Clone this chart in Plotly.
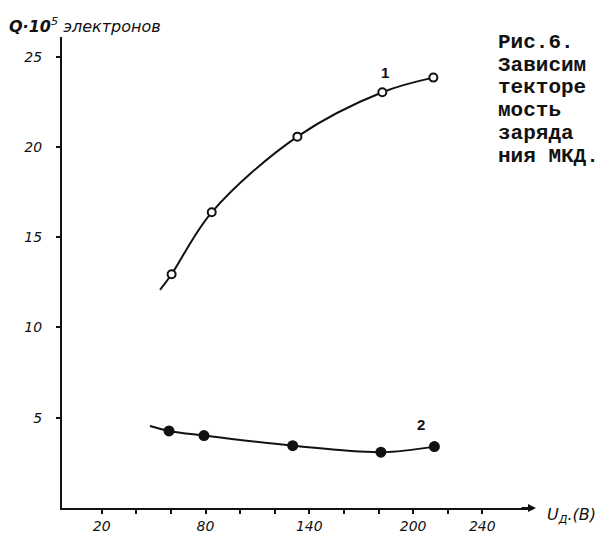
import plotly.graph_objects as go

# ---- data ----
u_curve1 = [60.4, 83.6, 133.1, 182.2, 211.7]          # U_D, V  (open circles, curve 1)
q_curve1 = [12.95, 16.38, 20.57, 23.03, 23.84]       # Q, 10^5 electrons
u_curve2 = [58.9, 79.1, 130.4, 181.4, 212.3]          # (filled circles, curve 2)
q_curve2 = [4.27, 4.01, 3.45, 3.09, 3.40]
line1_start = (53.7, 12.08)   # where the hand-drawn line 1 begins
line2_start = (47.9, 4.54)    # where the hand-drawn line 2 begins

x_tick_vals = [20, 80, 140, 200, 240]
x_tick_text = ["20", "80", "140", "200", "240"]
x_minor_vals = [20, 40, 60, 80, 100, 120, 140, 160, 180, 200, 220, 240]
y_tick_vals = [5, 10, 15, 20, 25]
y_tick_text = ["5", "10", "15", "20", "25"]

caption_lines = ["Рис.6.", "Зависим", "текторе", "мость", "заряда", "ния МКД."]

# ---- layout geometry ----
W, H = 600, 533
L, R, T, B = 62, 67, 37, 25
X_RANGE = [-2.95, 269.3]
Y_RANGE = [0, 26.09]
INK = "#111111"


def px2paper(px, py):
    return (px - L) / (W - L - R), 1 - (py - T) / (H - T - B)


fig = go.Figure()

fig.add_trace(go.Scatter(
    x=[line1_start[0]] + u_curve1, y=[line1_start[1]] + q_curve1,
    mode="lines", line=dict(color=INK, width=2, shape="spline", smoothing=1.0),
    hoverinfo="skip", showlegend=False))
fig.add_trace(go.Scatter(
    x=[line2_start[0]] + u_curve2, y=[line2_start[1]] + q_curve2,
    mode="lines", line=dict(color=INK, width=2, shape="spline", smoothing=1.0),
    hoverinfo="skip", showlegend=False))
fig.add_trace(go.Scatter(
    x=u_curve1, y=q_curve1, mode="markers", name="1",
    marker=dict(symbol="circle", size=8, color="white",
                line=dict(color=INK, width=2)),
    showlegend=False))
fig.add_trace(go.Scatter(
    x=u_curve2, y=q_curve2, mode="markers", name="2",
    marker=dict(symbol="circle", size=11, color=INK,
                line=dict(color=INK, width=0)),
    showlegend=False))

tick_font = dict(family="DejaVu Sans", size=14, color=INK, style="italic")

fig.update_xaxes(
    range=X_RANGE, showgrid=False, zeroline=False, automargin=False,
    showline=True, linecolor=INK, linewidth=2,
    tickmode="array", tickvals=x_tick_vals, ticktext=x_tick_text,
    ticks="outside", ticklen=4, tickwidth=1.5, tickcolor=INK,
    minor=dict(tickmode="array", tickvals=x_minor_vals, ticks="outside",
               ticklen=4, tickwidth=1.5, tickcolor=INK, showgrid=False),
    tickfont=tick_font, ticklabelstandoff=0)
fig.update_yaxes(
    range=Y_RANGE, showgrid=False, zeroline=False, automargin=False,
    showline=True, linecolor=INK, linewidth=2,
    tickmode="array", tickvals=y_tick_vals, ticktext=y_tick_text,
    ticks="outside", ticklen=4, tickwidth=1.5, tickcolor=INK,
    tickfont=tick_font, ticklabelstandoff=11)

annotations = []
# curve labels
annotations.append(dict(x=183.8, y=24.1, xref="x", yref="y", text="<b>1</b>",
                        showarrow=False,
                        font=dict(family="Liberation Sans", size=15, color=INK)))
annotations.append(dict(x=204.6, y=4.6, xref="x", yref="y", text="<b>2</b>",
                        showarrow=False,
                        font=dict(family="Liberation Sans", size=15, color=INK)))
# y axis title
ax_, ay_ = px2paper(7, 25)
annotations.append(dict(
    x=ax_, y=ay_, xref="paper", yref="paper", xanchor="left", yanchor="middle",
    text="<b><i>Q·10</i></b><sup><i>5</i></sup> <i>электронов</i>", showarrow=False,
    font=dict(family="DejaVu Sans", size=16, color=INK)))
# x axis title
bx_, by_ = px2paper(545, 515)
annotations.append(dict(
    x=bx_, y=by_, xref="paper", yref="paper", xanchor="left", yanchor="middle",
    text="<i>U<sub>Д</sub>.(В)</i>", showarrow=False,
    font=dict(family="DejaVu Sans", size=16, color=INK)))
# x axis arrow
p_head = px2paper(536, 508)
annotations.append(dict(
    x=p_head[0], y=p_head[1], ax=-16, ay=0,
    xref="paper", yref="paper", axref="pixel", ayref="pixel",
    text="", showarrow=True, arrowhead=2, arrowsize=0.8, arrowwidth=2,
    arrowcolor=INK))
# caption (the reference shows it cut off at the right edge)
cap_y = [42, 65, 88, 111, 134, 157]
for line, py in zip(caption_lines, cap_y):
    cx, cy = px2paper(496, py)
    annotations.append(dict(
        x=cx, y=cy, xref="paper", yref="paper", xanchor="left", yanchor="middle",
        text="<b>" + line.replace(" ", "&nbsp;") + "</b>", showarrow=False,
        font=dict(family="Liberation Mono", size=21, color=INK)))

fig.update_layout(
    width=W, height=H, margin=dict(l=L, r=R, t=T, b=B),
    paper_bgcolor="white", plot_bgcolor="white",
    annotations=annotations, showlegend=False)

fig.write_html("out.html")
